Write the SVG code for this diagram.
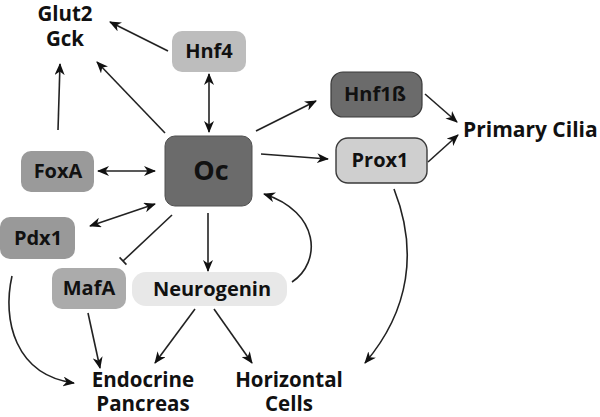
<svg xmlns="http://www.w3.org/2000/svg" width="600" height="417" viewBox="0 0 600 417">
<style>
.box text, text { font-family: "Open Sans", "Liberation Sans", sans-serif; font-weight: bold; fill: #111; }
.lbl { font-size: 20px; text-anchor: middle; }
.out { font-size: 20.5px; text-anchor: middle; }
.c { fill: none; stroke: #222; stroke-width: 1.6; }
</style>
<defs>
<marker id="ah" viewBox="0 0 12 10" refX="11" refY="5" markerWidth="12" markerHeight="10" markerUnits="userSpaceOnUse" orient="auto-start-reverse">
<path d="M0,0 L12,5 L0,10 L3.5,5 z" fill="#111"/>
</marker>
<marker id="tee" viewBox="-2 -6 4 12" refX="0" refY="0" markerWidth="4" markerHeight="12" markerUnits="userSpaceOnUse" orient="auto">
<path d="M0,-5 L0,5" stroke="#222" stroke-width="1.6"/>
</marker>
</defs>
<rect width="600" height="417" fill="#fff"/>
<g id="connectors">
<path class="c" d="M168,51 L110,22" marker-end="url(#ah)"/>
<path class="c" d="M165,133 L97,62" marker-end="url(#ah)"/>
<path class="c" d="M58,130 L60,64" marker-end="url(#ah)"/>
<path class="c" d="M209,74 L209,132" marker-start="url(#ah)" marker-end="url(#ah)"/>
<path class="c" d="M98,171 L155,171" marker-start="url(#ah)" marker-end="url(#ah)"/>
<path class="c" d="M256,131 L316,101" marker-end="url(#ah)"/>
<path class="c" d="M261,154 L328,159" marker-end="url(#ah)"/>
<path class="c" d="M425,94 L457,122" marker-end="url(#ah)"/>
<path class="c" d="M428,162 L458,135" marker-end="url(#ah)"/>
<path class="c" d="M394,189 C418,250 410,310 365,363" marker-end="url(#ah)"/>
<path class="c" d="M90,226 L155,204" marker-start="url(#ah)" marker-end="url(#ah)"/>
<path class="c" d="M172,215 L123,261" marker-end="url(#tee)"/>
<path class="c" d="M208,213 L208,271" marker-end="url(#ah)"/>
<path class="c" d="M292,282 C322,262 320,212 264,194" marker-end="url(#ah)"/>
<path class="c" d="M12,276 C2,320 15,375 74,383" marker-end="url(#ah)"/>
<path class="c" d="M88,313 L100,368" marker-end="url(#ah)"/>
<path class="c" d="M195,309 L155,363" marker-end="url(#ah)"/>
<path class="c" d="M214,309 L252,363" marker-end="url(#ah)"/>
</g>
<g id="glut2">
<text class="out" x="65" y="21">Glut2</text>
<text class="out" x="65" y="46">Gck</text>
</g>
<g id="hnf4" class="box">
<rect x="172" y="31" width="74" height="41" rx="10" fill="#bdbdbd"/>
<text class="lbl" x="209" y="58">Hnf4</text>
</g>
<g id="oc" class="box">
<rect x="165" y="136" width="87" height="70" rx="10" fill="#6b6b6b" stroke="#505050" stroke-width="1"/>
<text x="211" y="180" font-size="27" text-anchor="middle">Oc</text>
</g>
<g id="foxa" class="box">
<rect x="21" y="151" width="73" height="41" rx="10" fill="#9a9a9a"/>
<text class="lbl" x="58" y="178">FoxA</text>
</g>
<g id="hnf1b" class="box">
<rect x="331" y="72" width="91" height="45" rx="12" fill="#6b6b6b" stroke="#3a3a3a" stroke-width="1.2"/>
<text class="lbl" x="375" y="101">Hnf1ß</text>
</g>
<g id="prox1" class="box">
<rect x="336" y="138" width="91" height="45" rx="12" fill="#cfcfcf" stroke="#3a3a3a" stroke-width="1.4"/>
<text class="lbl" x="380" y="167">Prox1</text>
</g>
<g id="cilia">
<text x="463" y="137" font-size="21">Primary Cilia</text>
</g>
<g id="pdx1" class="box">
<rect x="0" y="217" width="75" height="42" rx="10" fill="#999999"/>
<text class="lbl" x="38" y="245">Pdx1</text>
</g>
<g id="mafa" class="box">
<rect x="52" y="268" width="74" height="41" rx="10" fill="#ababab"/>
<text class="lbl" x="89" y="295">MafA</text>
</g>
<g id="neurogenin" class="box">
<rect x="132" y="272" width="155" height="34" rx="14" fill="#e8e8e8"/>
<text class="lbl" x="212" y="296">Neurogenin</text>
</g>
<g id="endocrine">
<text class="out" x="143" y="387">Endocrine</text>
<text class="out" x="143" y="411">Pancreas</text>
</g>
<g id="horizontal">
<text class="out" x="289" y="387">Horizontal</text>
<text class="out" x="289" y="411">Cells</text>
</g>
</svg>
